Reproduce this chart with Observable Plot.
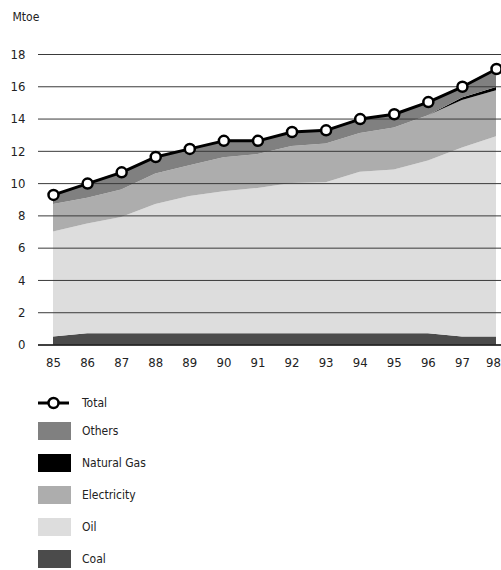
<!DOCTYPE html>
<html>
<head>
<meta charset="utf-8">
<script src="https://cdn.jsdelivr.net/npm/d3@7"></script>
<script src="https://cdn.jsdelivr.net/npm/@observablehq/plot@0.6"></script>
<style>
  html, body { margin: 0; padding: 0; background: #fff; }
  body { width: 501px; height: 570px; position: relative; overflow: hidden;
         font-family: "DejaVu Sans", sans-serif; font-stretch: condensed; color: #222; }
  #chart { position: absolute; left: 0; top: 0; }
  #chart svg, #chart svg text { font-family: "DejaVu Sans", sans-serif !important; font-stretch: condensed !important; }
  .legend-item { position: absolute; left: 38px; height: 18px; display: flex; align-items: center; font-size: 12px; }
  .legend-item .sw { width: 33px; height: 18px; margin-right: 11px; }
  .legend-item svg { margin-right: 11px; }
</style>
</head>
<body>
<div id="chart"></div>
<div id="legend"></div>
<script>
const years = [85, 86, 87, 88, 89, 90, 91, 92, 93, 94, 95, 96, 97, 98];
const coal        = [0.5, 0.7, 0.7, 0.7, 0.7, 0.7, 0.7, 0.7, 0.7, 0.7, 0.7, 0.7, 0.5, 0.5];
const oil         = [6.5, 6.8, 7.2, 8.0, 8.5, 8.8, 9.0, 9.3, 9.35, 10.0, 10.15, 10.7, 11.7, 12.4];
const electricity = [1.7, 1.6, 1.7, 1.9, 1.9, 2.1, 2.1, 2.3, 2.4, 2.4, 2.6, 2.8, 2.95, 2.85];
const naturalGas  = [0, 0, 0, 0, 0, 0, 0, 0, 0, 0, 0, 0, 0.15, 0.2];
const others      = [0.6, 0.9, 1.1, 1.05, 1.05, 1.05, 0.85, 0.9, 0.85, 0.9, 0.85, 0.85, 0.7, 1.15];
const total       = [9.3, 10.0, 10.7, 11.65, 12.15, 12.65, 12.65, 13.2, 13.3, 14.0, 14.3, 15.05, 16.0, 17.1];
const seriesNames = ["Coal", "Oil", "Electricity", "Natural Gas", "Others"];
const seriesColors = ["#4b4b4b", "#dddddd", "#adadad", "#000000", "#808080"];
const yTicks = [0, 2, 4, 6, 8, 10, 12, 14, 16, 18];
const xTickLabels = ["85", "86", "87", "88", "89", "90", "91", "92", "93", "94", "95", "96", "97", "98"];
const unitLabel = "Mtoe";
const legendOrder = ["Others", "Natural Gas", "Electricity", "Oil", "Coal"];

const seriesValues = [coal, oil, electricity, naturalGas, others];
const rows = [];
seriesNames.forEach((s, i) => years.forEach((yr, j) => rows.push({year: yr, series: s, value: seriesValues[i][j]})));
const totalRows = years.map((yr, j) => ({year: yr, value: total[j]}));
const tickRows = years.map((yr, j) => ({year: yr, label: xTickLabels[j], last: j === years.length - 1}));

const chart = Plot.plot({
  width: 501,
  height: 380,
  marginTop: 54,
  marginBottom: 35.5,
  marginLeft: 38,
  marginRight: 0,
  style: {fontSize: "13px", background: "white", color: "#222"},
  x: {domain: [85, 98], insetLeft: 15, insetRight: 5, axis: null},
  y: {domain: [0, 18], ticks: yTicks, tickSize: 0, tickPadding: 13, label: null},
  color: {domain: seriesNames, range: seriesColors},
  marks: [
    Plot.areaY(rows, {x: "year", y: "value", z: "series", fill: "series", order: seriesNames}),
    Plot.ruleY(yTicks.filter(d => d > 0), {stroke: "#3a3a3a", strokeWidth: 1}),
    Plot.ruleY([0], {stroke: "#000", strokeWidth: 1.5}),
    Plot.line(totalRows, {x: "year", y: "value", stroke: "#000", strokeWidth: 3}),
    Plot.dot(totalRows, {x: "year", y: "value", r: 5, fill: "white", stroke: "#000", strokeWidth: 2.5}),
    Plot.text(tickRows.filter(d => !d.last), {x: "year", y: () => 0, text: "label", dy: 18, fontSize: 13, fill: "#222"}),
    Plot.text(tickRows.filter(d => d.last), {x: "year", y: () => 0, text: "label", dy: 18, dx: -3, fontSize: 13, fill: "#222"}),
    Plot.text([unitLabel], {text: d => d, frameAnchor: "top-left", dx: -26, dy: -42, fontSize: 12, fill: "#222"})
  ]
});
document.getElementById("chart").appendChild(chart);

// Legend
const legend = d3.select("#legend");
const tot = legend.append("div").attr("class", "legend-item").style("top", "394px");
const sv = tot.append("svg").attr("width", 33).attr("height", 18);
sv.append("line").attr("x1", 0).attr("x2", 31).attr("y1", 9).attr("y2", 9).attr("stroke", "#000").attr("stroke-width", 3);
sv.append("circle").attr("cx", 15.5).attr("cy", 9).attr("r", 5).attr("fill", "#fff").attr("stroke", "#000").attr("stroke-width", 2.5);
tot.append("span").text("Total");
legendOrder.forEach((name, i) => {
  const item = legend.append("div").attr("class", "legend-item").style("top", (422 + 32 * i) + "px");
  item.append("div").attr("class", "sw").style("background", seriesColors[seriesNames.indexOf(name)]);
  item.append("span").text(name);
});
</script>
</body>
</html>
